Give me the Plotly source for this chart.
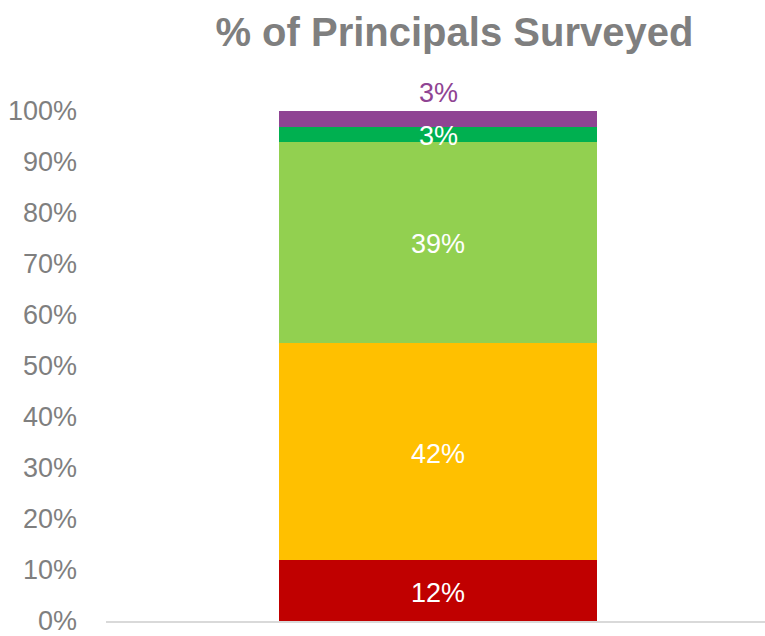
import plotly.graph_objects as go

category = ["Principals"]
segments = ["Red", "Orange", "Light green", "Green", "Purple"]
values = [11.9, 42.6, 39.5, 2.9, 3.1]
labels = ["12%", "42%", "39%", "3%", "3%"]
colors = ["#C00000", "#FFC000", "#92D050", "#00B050", "#8F4493"]
tick_vals = [0, 10, 20, 30, 40, 50, 60, 70, 80, 90, 100]
tick_text = ["0%", "10%", "20%", "30%", "40%", "50%", "60%", "70%", "80%", "90%", "100%"]

FONT = "Liberation Sans Narrow, Arial Narrow, Liberation Sans, Arial, sans-serif"

fig = go.Figure()
for name, v, c in zip(segments, values, colors):
    fig.add_trace(go.Bar(
        x=category, y=[v], name=name, marker=dict(color=c, line=dict(width=0)),
        hoverinfo="skip",
    ))

# label positions from cumulative stacks
cum = 0
for i, (v, lab) in enumerate(zip(values, labels)):
    mid = cum + v / 2
    cum += v
    if i < len(values) - 1:
        fig.add_annotation(x=category[0], y=mid, text=lab, showarrow=False,
                           xanchor="center", yanchor="middle", yshift=-2,
                           font=dict(family=FONT, size=27, color="white"))
    else:
        fig.add_annotation(x=category[0], y=cum, text=lab, showarrow=False,
                           xanchor="center", yanchor="bottom", yshift=1,
                           font=dict(family=FONT, size=27, color=colors[i]))

fig.update_layout(
    barmode="stack", bargap=0.5175, showlegend=False,
    width=765, height=636, margin=dict(l=106, r=0, t=111, b=12),
    paper_bgcolor="white", plot_bgcolor="white",
    title=dict(text="<b>% of Principals Surveyed</b>", x=0.594, xanchor="center",
               y=0.95, yanchor="middle",
               font=dict(family=FONT, size=40, color="#7F7F7F")),
    xaxis=dict(showticklabels=False, showgrid=False, zeroline=False,
               range=[-0.504, 0.496],
               showline=True, linecolor="#D9D9D9", linewidth=2),
    yaxis=dict(range=[0, 100], tickvals=tick_vals, ticktext=tick_text,
               showgrid=False, zeroline=False, showline=False,
               ticklabelstandoff=28, ticklabeloverflow="allow",
               tickfont=dict(family=FONT, size=27, color="#7F7F7F")),
)

fig.write_html("out.html")
